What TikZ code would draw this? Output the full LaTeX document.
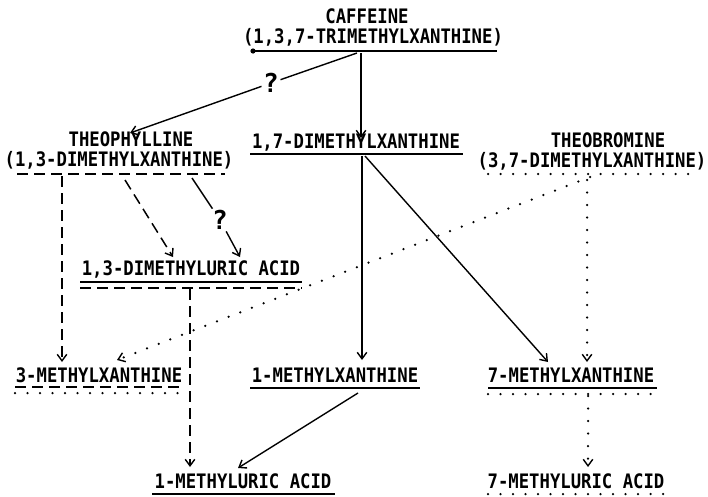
\documentclass[tikz,border=0pt]{standalone}
\usepackage{graphicx}
\usepackage{fontspec}
\newfontfamily\labfont{DejaVu Sans Mono}
\newcommand\tallt[1]{\scalebox{0.97}[1.12]{#1}}
\usetikzlibrary{arrows.meta,calc}
\begin{document}
\begin{tikzpicture}[x=1pt,y=-1pt,
  lab/.style={font=\labfont\fontsize{17.8}{17.8}\selectfont\bfseries, inner sep=0pt, anchor=base},
  qm/.style={font=\labfont\fontsize{26}{26}\selectfont\bfseries, inner sep=1.5pt},
  tip/.style={-{Straight Barb[length=6.5pt,width=9.5pt,line width=1.4pt]}},
  solidln/.style={line width=1.4pt},
  dashedln/.style={line width=1.5pt, dash pattern=on 11pt off 6pt},
  dottedln/.style={line width=2.5pt, line cap=round, dash pattern=on 0pt off 12.5pt},
  uline/.style={line width=1.5pt}
]
\useasboundingbox (0,0) rectangle (708,496);

% compound labels
\node[lab] (cafA) at (367,23) {\tallt{CAFFEINE}};
\node[lab] (cafB) at (373,43) {\tallt{(1,3,7-TRIMETHYLXANTHINE)}};
\node[lab] (dmx) at (356,148) {\tallt{1,7-DIMETHYLXANTHINE}};
\node[lab] (theoA) at (131,146) {\tallt{THEOPHYLLINE}};
\node[lab] (theoB) at (119,166) {\tallt{(1,3-DIMETHYLXANTHINE)}};
\node[lab] (tbA) at (608,147) {\tallt{THEOBROMINE}};
\node[lab] (tbB) at (592,167) {\tallt{(3,7-DIMETHYLXANTHINE)}};
\node[lab] (dmu) at (191,275) {\tallt{1,3-DIMETHYLURIC ACID}};
\node[lab] (mx3) at (99,382) {\tallt{3-METHYLXANTHINE}};
\node[lab] (mx1) at (335,382) {\tallt{1-METHYLXANTHINE}};
\node[lab] (mx7) at (571,382) {\tallt{7-METHYLXANTHINE}};
\node[lab] (mu1) at (243,488) {\tallt{1-METHYLURIC ACID}};
\node[lab] (mu7) at (576,488) {\tallt{7-METHYLURIC ACID}};

% underlines
\draw[uline] (253,51) -- (497,51);
\fill (253,51) circle (2.6pt);
\draw[uline] (250,154) -- (463,154);
\draw[uline,dashedln] (17,174) -- (225,174);
\draw[dottedln] (488,174) -- (700,174);
\draw[uline] (80,282) -- (302,282);
\draw[uline,dashedln] (80,288) -- (302,288);
\draw[uline,dashedln] (15,387) -- (180,387);
\draw[dottedln] (15,393) -- (180,393);
\draw[uline] (250,388) -- (420,388);
\draw[uline] (488,388) -- (657,388);
\draw[dottedln] (488,394) -- (657,394);
\draw[uline] (152,494) -- (335,494);
\draw[dottedln] (488,494) -- (668,494);

% connector endpoints
\coordinate (c1s) at (357,53);
\coordinate (c1e) at (130,133);
\coordinate (c2s) at (361,53);
\coordinate (c2e) at (361,138);
\coordinate (c3s) at (62,176);
\coordinate (c3e) at (62,362);
\coordinate (c4s) at (125,180);
\coordinate (c4e) at (173,257);
\coordinate (c5s) at (192,178);
\coordinate (c5e) at (240,257);
\coordinate (c6s) at (190,289);
\coordinate (c6e) at (190,467);
\coordinate (c7s) at (590,177);
\coordinate (c7e) at (117,360);
\coordinate (c8s) at (587,180);
\coordinate (c8e) at (587,362);
\coordinate (c9s) at (362,156);
\coordinate (c9e) at (362,360);
\coordinate (c10s) at (365,156);
\coordinate (c10e) at (548,362);
\coordinate (c11s) at (358,393);
\coordinate (c11e) at (238,468);
\coordinate (c12s) at (588,396);
\coordinate (c12e) at (588,467);

\node[qm] (q1) at (271,83) {?};
\node[qm] (q2) at (220,220) {?};

% connectors
\draw[solidln] (c1s) -- (q1);
\draw[solidln,tip] (q1) -- (c1e);
\draw[solidln,tip] (c2s) -- (c2e);
\draw[dashedln,tip] (c3s) -- (c3e);
\draw[dashedln,tip] (c4s) -- (c4e);
\draw[solidln] (c5s) -- (q2);
\draw[solidln,tip] (q2) -- (c5e);
\draw[dashedln,tip] (c6s) -- (c6e);
\draw[dottedln,tip] (c7s) -- (c7e);
\draw[dottedln,tip] (c8s) -- (c8e);
\draw[solidln,tip] (c9s) -- (c9e);
\draw[solidln,tip] (c10s) -- (c10e);
\draw[solidln,tip] (c11s) -- (c11e);
\draw[dottedln,tip] (c12s) -- (c12e);
\end{tikzpicture}
\end{document}
